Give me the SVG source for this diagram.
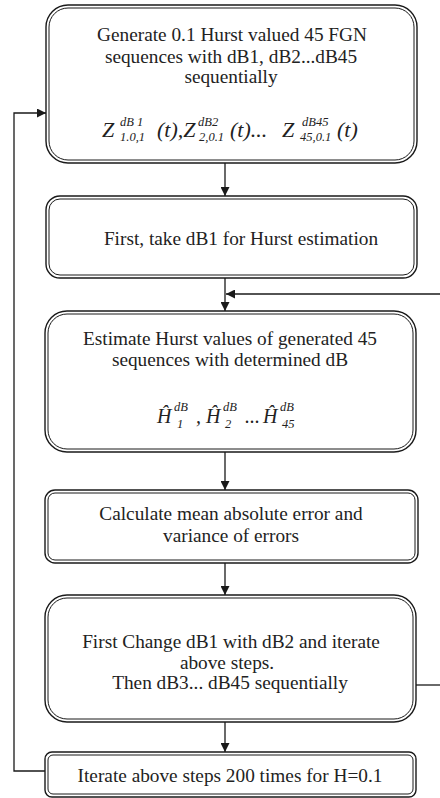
<svg xmlns="http://www.w3.org/2000/svg" width="440" height="798" viewBox="0 0 440 798">
<defs>
<style>
.o{fill:#fff;stroke:#1a1a1a;stroke-width:1.4}
.i{fill:none;stroke:#1a1a1a;stroke-width:1}
.t{font-family:"Liberation Serif","Times New Roman",serif;font-size:19.3px;fill:#222;text-anchor:middle}
.m{font-family:"Liberation Serif","Times New Roman",serif;font-style:italic;fill:#222}
.big{font-size:22px}
.hb{font-size:20px}
.s{font-size:12.5px}
.c{fill:none;stroke:#1a1a1a;stroke-width:1.3}
</style>
<marker id="ah" viewBox="0 0 10 10" refX="10" refY="5" markerWidth="10" markerHeight="9" markerUnits="userSpaceOnUse" orient="auto">
<path d="M0,0 L10,5 L0,10 Z" fill="#1a1a1a"/>
</marker>
</defs>
<rect width="440" height="798" fill="#fff"/>

<g id="connectors">
<line class="c" x1="225" y1="163" x2="225" y2="196" marker-end="url(#ah)"/>
<line class="c" x1="225" y1="278" x2="225" y2="311" marker-end="url(#ah)"/>
<line class="c" x1="440" y1="294" x2="226" y2="294" marker-end="url(#ah)"/>
<line class="c" x1="225" y1="452" x2="225" y2="490" marker-end="url(#ah)"/>
<line class="c" x1="225" y1="563" x2="225" y2="595" marker-end="url(#ah)"/>
<line class="c" x1="225" y1="722" x2="225" y2="752" marker-end="url(#ah)"/>
<line class="c" x1="416" y1="685" x2="440" y2="685"/>
<polyline class="c" points="45,771 14,771 14,113 46,113" marker-end="url(#ah)"/>
</g>

<g id="node1">
<rect class="o" x="46" y="5" width="371" height="158" rx="22"/>
<rect class="i" x="49" y="8" width="365" height="152" rx="19"/>
<text class="t" x="232" y="41">Generate 0.1 Hurst valued 45 FGN</text>
<text class="t" x="231" y="63">sequences with dB1, dB2...dB45</text>
<text class="t" x="231" y="83">sequentially</text>
<text class="m big" x="102" y="137">Z</text>
<text class="m s" x="120" y="126">dB 1</text>
<text class="m s" x="120" y="141">1.0,1</text>
<text class="m big" x="157" y="137">(t),Z</text>
<text class="m s" x="198" y="126">dB2</text>
<text class="m s" x="199" y="141">2,0.1</text>
<text class="m big" x="230" y="137">(t)...</text>
<text class="m big" x="282" y="137">Z</text>
<text class="m s" x="302" y="126">dB45</text>
<text class="m s" x="300" y="141">45,0.1</text>
<text class="m big" x="337" y="137">(t)</text>
</g>

<g id="node2">
<rect class="o" x="46" y="196" width="371" height="82" rx="14"/>
<rect class="i" x="49" y="199" width="365" height="76" rx="11"/>
<text class="t" x="241" y="245">First, take dB1 for Hurst estimation</text>
</g>

<g id="node3">
<rect class="o" x="45" y="311" width="371" height="141" rx="22"/>
<rect class="i" x="48" y="314" width="365" height="135" rx="19"/>
<text class="t" x="230" y="345">Estimate Hurst values of  generated 45</text>
<text class="t" x="230" y="366">sequences with determined dB</text>
<text class="m hb" x="157" y="423">Ĥ</text>
<text class="m s" x="174" y="411">dB</text>
<text class="m s" x="177" y="428">1</text>
<text class="m hb" x="196" y="423">,</text>
<text class="m hb" x="206" y="423">Ĥ</text>
<text class="m s" x="223" y="411">dB</text>
<text class="m s" x="225" y="428">2</text>
<text class="m hb" x="245" y="423">...</text>
<text class="m hb" x="263" y="423">Ĥ</text>
<text class="m s" x="280" y="411">dB</text>
<text class="m s" x="282" y="428">45</text>
</g>

<g id="node4">
<rect class="o" x="45" y="490" width="373" height="73" rx="10"/>
<rect class="i" x="48" y="493" width="367" height="67" rx="7"/>
<text class="t" x="231" y="520">Calculate mean absolute error and</text>
<text class="t" x="231" y="542">variance of errors</text>
</g>

<g id="node5">
<rect class="o" x="45" y="595" width="371" height="127" rx="22"/>
<rect class="i" x="48" y="598" width="365" height="121" rx="19"/>
<text class="t" x="231" y="648">First Change dB1 with dB2 and iterate</text>
<text class="t" x="227" y="669">above steps.</text>
<text class="t" x="230" y="689">Then dB3... dB45 sequentially</text>
</g>

<g id="node6">
<rect class="o" x="45" y="752" width="371" height="45" rx="7"/>
<rect class="i" x="48" y="755" width="365" height="39" rx="5"/>
<text class="t" x="230" y="782">Iterate above steps 200 times for H=0.1</text>
</g>
</svg>
